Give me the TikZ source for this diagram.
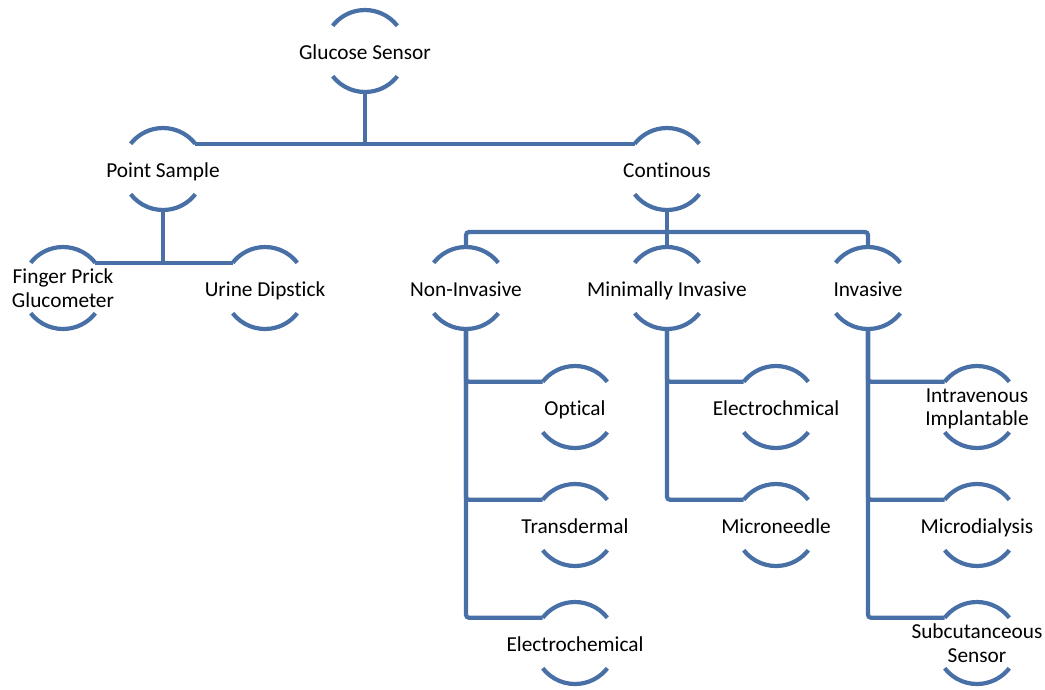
\documentclass[tikz,border=0pt]{standalone}
\usepackage{fontspec}
\setmainfont{Carlito}[Ligatures=CommonOff]
\definecolor{ring}{RGB}{72,112,166}
\tikzset{
  x=1pt,y=-1pt,
  lbl/.style={font=\fontsize{21.3}{23.5}\selectfont, align=center, inner sep=0pt, text=black,
    yshift=-3.5pt, execute at begin node=\strut, execute at end node=\strut},
  ringline/.style={draw=ring, line width=4.2pt},
  conn/.style={draw=ring, line width=4.2pt, rounded corners=3pt}
}
\newcommand{\snode}[4]{%
  \node[lbl] (#1) at (#2,#3) {#4};
  \coordinate (#1-c) at (#2,#3);
  \coordinate (#1-t)  at ([shift={(90:41pt)}]#1-c);
  \coordinate (#1-b)  at ([shift={(270:41pt)}]#1-c);
  \coordinate (#1-tl) at ([shift={(142:41pt)}]#1-c);
  \coordinate (#1-tr) at ([shift={(38:41pt)}]#1-c);
  \draw[ringline] (#1-tr) arc[start angle=38, end angle=142, radius=41pt];
  \draw[ringline] ([shift={(218:41pt)}]#1-c) arc[start angle=218, end angle=322, radius=41pt];
}
\begin{document}
\begin{tikzpicture}
\useasboundingbox (0,0) rectangle (1045,689);
\snode{gs}{365}{51}{Glucose Sensor}
\snode{ps}{163}{169}{Point Sample}
\snode{co}{667}{169}{Continous}
\snode{fp}{63}{288}{Finger Prick\\Glucometer}
\snode{ud}{265}{288}{Urine Dipstick}
\snode{ni}{466}{288}{Non-Invasive}
\snode{mi}{667}{288}{Minimally Invasive}
\snode{iv}{868}{288}{Invasive}
\snode{op}{575}{407}{Optical}
\snode{td}{575}{525}{Transdermal}
\snode{ec}{575}{643}{Electrochemical}
\snode{em}{776}{407}{Electrochmical}
\snode{mn}{776}{525}{Microneedle}
\snode{ii}{977}{407}{Intravenous\\Implantable}
\snode{md}{977}{525}{Microdialysis}
\snode{sc}{977}{643}{Subcutanceous\\Sensor}
% level 1
\draw[conn] (gs-b) -- (gs-b |- ps-tr);
\draw[conn] (ps-tr) -- (co-tl);
% point sample
\draw[conn] (ps-b) -- (ps-b |- fp-tr);
\draw[conn] (fp-tr) -- (ud-tl);
% continous
\coordinate (cj) at ([yshift=-22pt]co-b);
\draw[conn] (co-b) -- (mi-t);
\draw[conn] (cj) -| (ni-t);
\draw[conn] (cj) -| (iv-t);
% non-invasive
\draw[conn] (ni-b) |- (op-tl);
\draw[conn] (ni-b) |- (td-tl);
\draw[conn] (ni-b) |- (ec-tl);
% minimally invasive
\draw[conn] (mi-b) |- (em-tl);
\draw[conn] (mi-b) |- (mn-tl);
% invasive
\draw[conn] (iv-b) |- (ii-tl);
\draw[conn] (iv-b) |- (md-tl);
\draw[conn] (iv-b) |- (sc-tl);
\end{tikzpicture}
\end{document}
